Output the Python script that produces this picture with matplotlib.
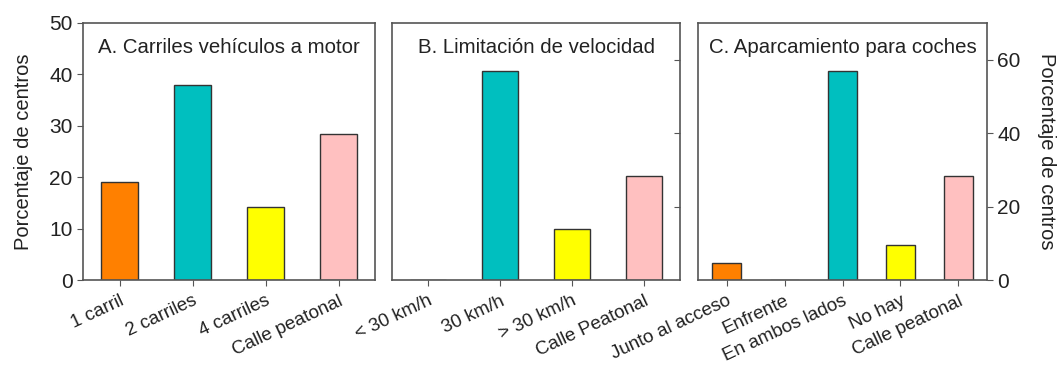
import matplotlib
matplotlib.use("Agg")
import matplotlib.pyplot as plt

plt.rcParams['font.family'] = ['Liberation Sans', 'DejaVu Sans']

cats_a = ["1 carril", "2 carriles", "4 carriles", "Calle peatonal"]
vals_a = [19, 38, 14.2, 28.5]
cols_a = ["#FF8000", "#00BFBF", "#FFFF00", "#FFC0C0"]

cats_b = ["< 30 km/h", "30 km/h", "> 30 km/h", "Calle Peatonal"]
vals_b = [0, 57, 14, 28.4]
cols_b = ["#FF8000", "#00BFBF", "#FFFF00", "#FFC0C0"]

cats_c = ["Junto al acceso", "Enfrente", "En ambos lados", "No hay", "Calle peatonal"]
vals_c = [4.5, 0, 57, 9.4, 28.2]
cols_c = ["#FF8000", "#8080FF", "#00BFBF", "#FFFF00", "#FFC0C0"]

titles = ["A. Carriles vehículos a motor", "B. Limitación de velocidad", "C. Aparcamiento para coches"]
ylabel = "Porcentaje de centros"

W, H = 1058, 365
fig = plt.figure(figsize=(W/100, H/100), dpi=100)
bottom = 1 - 280/H
top = 1 - 23/H
lefts = [83, 392, 698]
rights = [375, 680, 987]
axes = [fig.add_axes([l/W, bottom, (r-l)/W, top-bottom]) for l, r in zip(lefts, rights)]

spine_col = "#555555"
edge_col = "#333333"
txt_col = "#222222"
tick_fs = 15
data = [(cats_a, vals_a, cols_a), (cats_b, vals_b, cols_b), (cats_c, vals_c, cols_c)]
for ax, (cats, vals, cols), title in zip(axes, data, titles):
    x = range(len(cats))
    ax.bar(x, vals, width=0.5, color=cols, edgecolor=edge_col, linewidth=1.0)
    ax.set_xlim(-0.5, len(cats)-0.5)
    ax.set_xticks(list(x))
    ax.set_xticklabels(cats, rotation=25, ha='right', rotation_mode='anchor', fontsize=13.5, color=txt_col)
    for s in ax.spines.values():
        s.set_color(spine_col)
        s.set_linewidth(1.2)
    ax.tick_params(axis='x', direction='out', length=4, color=spine_col, pad=5)
    ax.text(0.5, 0.905, title, transform=ax.transAxes, ha='center', va='center', fontsize=14.7, color=txt_col)

# Panel A
axA = axes[0]
axA.set_ylim(0, 50)
axA.set_yticks([0, 10, 20, 30, 40, 50])
axA.tick_params(axis='y', direction='out', length=4, labelsize=tick_fs, color=spine_col, labelcolor=txt_col)
axA.set_ylabel(ylabel, fontsize=14.5, color=txt_col, labelpad=12)

# Panel B
axB = axes[1]
axB.set_ylim(0, 70)
axB.yaxis.tick_right()
axB.set_yticks([20, 40, 60])
axB.tick_params(axis='y', direction='in', length=4, labelright=False, labelleft=False, color=spine_col)

# Panel C
axC = axes[2]
axC.set_ylim(0, 70)
axC.yaxis.tick_right()
axC.yaxis.set_label_position('right')
axC.set_yticks([0, 20, 40, 60])
axC.tick_params(axis='y', direction='out', length=4, labelsize=tick_fs, color=spine_col, labelcolor=txt_col)
axC.set_ylabel(ylabel, fontsize=14.5, color=txt_col, rotation=270, labelpad=25)

fig.savefig("out.png", dpi=100)
